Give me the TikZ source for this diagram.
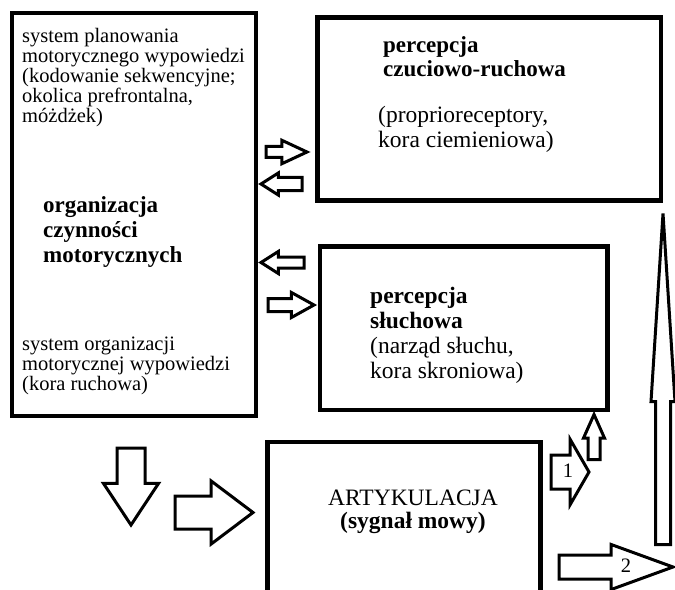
\documentclass[tikz,border=0pt]{standalone}
\usepackage{fontspec}
\setmainfont{Liberation Serif}
\usetikzlibrary{shapes.arrows}

\begin{document}
\begin{tikzpicture}[x=1bp, y=-1bp,
  box/.style = {draw, line width=4.5bp, inner sep=0pt},
  blk/.style = {single arrow, draw, fill=white, line width=3bp, inner xsep=0pt,
    text height=0pt, text depth=0pt, single arrow head indent=0pt, anchor=tail},
  dims/.style n args = {4}{minimum height=#1bp, inner ysep=#2bp,
    single arrow head extend=#3bp, single arrow tip angle=#4},
  txt/.style = {inner sep=0pt, align=left, anchor=base west,
    font=\fontsize{20.5bp}{20bp}\selectfont},
  big/.style = {inner sep=0pt, align=left, anchor=base west,
    font=\fontsize{23.5bp}{25bp}\selectfont},
  bigb/.style = {big, font=\fontsize{23bp}{25bp}\selectfont\bfseries}]
\useasboundingbox (0,0) rectangle (675,590);

% boxes
\node[box, minimum width=244bp, minimum height=403bp] (org) at (134,214.5) {};
\node[box, minimum width=343.5bp, minimum height=183bp] (czucie) at (489.25,109) {};
\node[box, minimum width=287.5bp, minimum height=163.5bp] (sluch) at (463.75,328.25) {};
\node[box, minimum width=273bp, minimum height=178bp] (artyk) at (404,531) {};

% texts (anchored at the last line)
\node[txt] (plan) at (22,123) {system planowania\\ motorycznego wypowiedzi\\ (kodowanie sekwencyjne;\\ okolica prefrontalna,\\ móżdżek)};
\node[bigb] (orgt) at (43,262) {organizacja\\ czynności\\ motorycznych};
\node[txt] (orgsys) at (22,390) {system organizacji\\ motorycznej wypowiedzi\\ (kora ruchowa)};
\node[bigb, font=\fontsize{23bp}{24bp}\selectfont\bfseries] (czuciet) at (383,77) {percepcja\\ czuciowo-ruchowa};
\node[big] (czucies) at (378,148) {(proprioreceptory,\\ kora ciemieniowa)};
\node[big] (slucht) at (370,378) {\textbf{percepcja}\\ \textbf{słuchowa}\\ (narząd słuchu,\\ kora skroniowa)};
\node[big, align=center, anchor=base, font=\fontsize{23.5bp}{23bp}\selectfont] (artykt) at (413,528) {ARTYKULACJA\\ \textbf{(sygnał mowy)}};

% block arrows
\node[blk, dims={41}{4}{6.25}{50}] (a1) at (264.5,152) {};
\node[blk, rotate=180, dims={41}{5}{4.5}{65}] (a2) at (303.5,184) {};
\node[blk, rotate=180, dims={43}{4}{5.5}{65}] (a3) at (305.5,262.5) {};
\node[blk, dims={46}{5}{6}{58}] (a4) at (266.5,305) {};
\node[blk, rotate=-90, dims={77}{12.5}{13.5}{67}] (dol) at (131,446.5) {};
\node[blk, dims={78}{15}{15}{74}] (prawo) at (173.5,512.5) {};
\node[blk, dims={38}{15.5}{15.5}{120}] (s1) at (549.5,472) {};
\node[blk, rotate=90, dims={45}{4.5}{4.5}{48}] (gora) at (594,461) {};
\node[blk, dims={114}{10.5}{10.5}{40}] (s2) at (557.5,567) {};
\node[blk, rotate=90, dims={331}{6}{4.5}{7.3}] (wys) at (663,546) {};

% labels
\node[font=\fontsize{20.5bp}{20bp}\selectfont, inner sep=0pt] (n1) at (568,471) {1};
\node[font=\fontsize{20.5bp}{20bp}\selectfont, inner sep=0pt] (n2) at (626,566) {2};
\end{tikzpicture}
\end{document}
